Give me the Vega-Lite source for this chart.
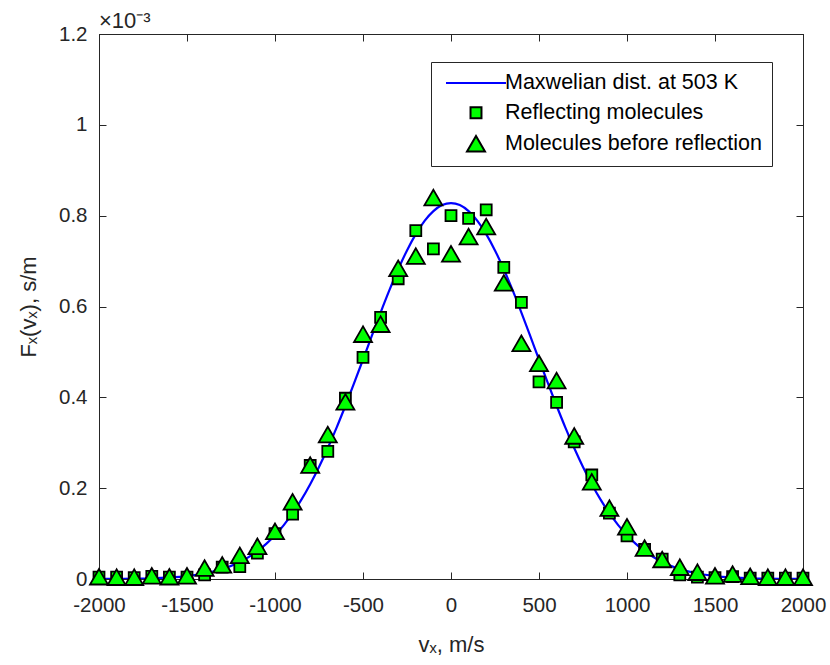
{
  "$schema": "https://vega.github.io/schema/vega-lite/v6.json",
  "width": 704,
  "height": 545,
  "autosize": {"type": "none"},
  "padding": {"left": 99, "top": 34, "right": 27, "bottom": 86},
  "background": "white",
  "title": {"text": "×10⁻³", "anchor": "start", "fontSize": 22, "fontWeight": "normal", "font": "Liberation Sans", "color": "#262626", "offset": -9, "frame": "group"},
  "config": {
    "view": {"stroke": "#262626", "strokeWidth": 1},
    "axis": {"grid": false, "domainColor": "#262626", "tickColor": "#262626", "labelColor": "#262626", "titleColor": "#262626", "labelFont": "Liberation Sans", "titleFont": "Liberation Sans", "labelFontSize": 20.5, "titleFontSize": 22, "titleFontWeight": "normal", "tickSize": -7, "domainWidth": 1, "tickWidth": 1, "labelFlush": false, "labelOverlap": false},
    "legend": {"labelFont": "Liberation Sans"}
  },
  "datasets": {
    "curve": [
      {"v": -2000, "F": 0.0000002, "series": "Maxwelian dist. at 503 K"},
      {"v": -1900, "F": 0.0000004, "series": "Maxwelian dist. at 503 K"},
      {"v": -1800, "F": 0.0000008, "series": "Maxwelian dist. at 503 K"},
      {"v": -1700, "F": 0.0000016, "series": "Maxwelian dist. at 503 K"},
      {"v": -1600, "F": 0.0000034, "series": "Maxwelian dist. at 503 K"},
      {"v": -1500, "F": 0.0000065, "series": "Maxwelian dist. at 503 K"},
      {"v": -1400, "F": 0.0000122, "series": "Maxwelian dist. at 503 K"},
      {"v": -1300, "F": 0.0000218, "series": "Maxwelian dist. at 503 K"},
      {"v": -1200, "F": 0.0000373, "series": "Maxwelian dist. at 503 K"},
      {"v": -1150, "F": 0.0000481, "series": "Maxwelian dist. at 503 K"},
      {"v": -1100, "F": 0.0000613, "series": "Maxwelian dist. at 503 K"},
      {"v": -1050, "F": 0.0000772, "series": "Maxwelian dist. at 503 K"},
      {"v": -1000, "F": 0.0000962, "series": "Maxwelian dist. at 503 K"},
      {"v": -950, "F": 0.0001187, "series": "Maxwelian dist. at 503 K"},
      {"v": -900, "F": 0.0001448, "series": "Maxwelian dist. at 503 K"},
      {"v": -850, "F": 0.0001748, "series": "Maxwelian dist. at 503 K"},
      {"v": -800, "F": 0.0002088, "series": "Maxwelian dist. at 503 K"},
      {"v": -750, "F": 0.0002467, "series": "Maxwelian dist. at 503 K"},
      {"v": -700, "F": 0.0002884, "series": "Maxwelian dist. at 503 K"},
      {"v": -650, "F": 0.0003334, "series": "Maxwelian dist. at 503 K"},
      {"v": -600, "F": 0.0003815, "series": "Maxwelian dist. at 503 K"},
      {"v": -550, "F": 0.0004317, "series": "Maxwelian dist. at 503 K"},
      {"v": -500, "F": 0.0004833, "series": "Maxwelian dist. at 503 K"},
      {"v": -450, "F": 0.0005353, "series": "Maxwelian dist. at 503 K"},
      {"v": -400, "F": 0.0005866, "series": "Maxwelian dist. at 503 K"},
      {"v": -350, "F": 0.0006359, "series": "Maxwelian dist. at 503 K"},
      {"v": -300, "F": 0.0006820, "series": "Maxwelian dist. at 503 K"},
      {"v": -250, "F": 0.0007235, "series": "Maxwelian dist. at 503 K"},
      {"v": -200, "F": 0.0007594, "series": "Maxwelian dist. at 503 K"},
      {"v": -150, "F": 0.0007886, "series": "Maxwelian dist. at 503 K"},
      {"v": -100, "F": 0.0008101, "series": "Maxwelian dist. at 503 K"},
      {"v": -50, "F": 0.0008233, "series": "Maxwelian dist. at 503 K"},
      {"v": 0, "F": 0.0008277, "series": "Maxwelian dist. at 503 K"},
      {"v": 50, "F": 0.0008233, "series": "Maxwelian dist. at 503 K"},
      {"v": 100, "F": 0.0008101, "series": "Maxwelian dist. at 503 K"},
      {"v": 150, "F": 0.0007886, "series": "Maxwelian dist. at 503 K"},
      {"v": 200, "F": 0.0007594, "series": "Maxwelian dist. at 503 K"},
      {"v": 250, "F": 0.0007235, "series": "Maxwelian dist. at 503 K"},
      {"v": 300, "F": 0.0006820, "series": "Maxwelian dist. at 503 K"},
      {"v": 350, "F": 0.0006359, "series": "Maxwelian dist. at 503 K"},
      {"v": 400, "F": 0.0005866, "series": "Maxwelian dist. at 503 K"},
      {"v": 450, "F": 0.0005353, "series": "Maxwelian dist. at 503 K"},
      {"v": 500, "F": 0.0004833, "series": "Maxwelian dist. at 503 K"},
      {"v": 550, "F": 0.0004317, "series": "Maxwelian dist. at 503 K"},
      {"v": 600, "F": 0.0003815, "series": "Maxwelian dist. at 503 K"},
      {"v": 650, "F": 0.0003334, "series": "Maxwelian dist. at 503 K"},
      {"v": 700, "F": 0.0002884, "series": "Maxwelian dist. at 503 K"},
      {"v": 750, "F": 0.0002467, "series": "Maxwelian dist. at 503 K"},
      {"v": 800, "F": 0.0002088, "series": "Maxwelian dist. at 503 K"},
      {"v": 850, "F": 0.0001748, "series": "Maxwelian dist. at 503 K"},
      {"v": 900, "F": 0.0001448, "series": "Maxwelian dist. at 503 K"},
      {"v": 950, "F": 0.0001187, "series": "Maxwelian dist. at 503 K"},
      {"v": 1000, "F": 0.0000962, "series": "Maxwelian dist. at 503 K"},
      {"v": 1050, "F": 0.0000772, "series": "Maxwelian dist. at 503 K"},
      {"v": 1100, "F": 0.0000613, "series": "Maxwelian dist. at 503 K"},
      {"v": 1150, "F": 0.0000481, "series": "Maxwelian dist. at 503 K"},
      {"v": 1200, "F": 0.0000373, "series": "Maxwelian dist. at 503 K"},
      {"v": 1300, "F": 0.0000218, "series": "Maxwelian dist. at 503 K"},
      {"v": 1400, "F": 0.0000122, "series": "Maxwelian dist. at 503 K"},
      {"v": 1500, "F": 0.0000065, "series": "Maxwelian dist. at 503 K"},
      {"v": 1600, "F": 0.0000034, "series": "Maxwelian dist. at 503 K"},
      {"v": 1700, "F": 0.0000016, "series": "Maxwelian dist. at 503 K"},
      {"v": 1800, "F": 0.0000008, "series": "Maxwelian dist. at 503 K"},
      {"v": 1900, "F": 0.0000004, "series": "Maxwelian dist. at 503 K"},
      {"v": 2000, "F": 0.0000002, "series": "Maxwelian dist. at 503 K"}
    ],
    "points": [
      {"v": -2000, "F": 0.000004, "series": "Reflecting molecules"},
      {"v": -1900, "F": 0.000004, "series": "Reflecting molecules"},
      {"v": -1800, "F": 0.000003, "series": "Reflecting molecules"},
      {"v": -1700, "F": 0.000006, "series": "Reflecting molecules"},
      {"v": -1600, "F": 0.000004, "series": "Reflecting molecules"},
      {"v": -1500, "F": 0.000004, "series": "Reflecting molecules"},
      {"v": -1400, "F": 0.000009, "series": "Reflecting molecules"},
      {"v": -1300, "F": 0.000026, "series": "Reflecting molecules"},
      {"v": -1200, "F": 0.000027, "series": "Reflecting molecules"},
      {"v": -1100, "F": 0.000057, "series": "Reflecting molecules"},
      {"v": -1000, "F": 0.000100, "series": "Reflecting molecules"},
      {"v": -900, "F": 0.000143, "series": "Reflecting molecules"},
      {"v": -800, "F": 0.000250, "series": "Reflecting molecules"},
      {"v": -700, "F": 0.000281, "series": "Reflecting molecules"},
      {"v": -600, "F": 0.000398, "series": "Reflecting molecules"},
      {"v": -500, "F": 0.000488, "series": "Reflecting molecules"},
      {"v": -400, "F": 0.000576, "series": "Reflecting molecules"},
      {"v": -300, "F": 0.000661, "series": "Reflecting molecules"},
      {"v": -200, "F": 0.000767, "series": "Reflecting molecules"},
      {"v": -100, "F": 0.000727, "series": "Reflecting molecules"},
      {"v": 0, "F": 0.000800, "series": "Reflecting molecules"},
      {"v": 100, "F": 0.000794, "series": "Reflecting molecules"},
      {"v": 200, "F": 0.000813, "series": "Reflecting molecules"},
      {"v": 300, "F": 0.000686, "series": "Reflecting molecules"},
      {"v": 400, "F": 0.000609, "series": "Reflecting molecules"},
      {"v": 500, "F": 0.000434, "series": "Reflecting molecules"},
      {"v": 600, "F": 0.000389, "series": "Reflecting molecules"},
      {"v": 700, "F": 0.000302, "series": "Reflecting molecules"},
      {"v": 800, "F": 0.000229, "series": "Reflecting molecules"},
      {"v": 900, "F": 0.000145, "series": "Reflecting molecules"},
      {"v": 1000, "F": 0.000095, "series": "Reflecting molecules"},
      {"v": 1100, "F": 0.000065, "series": "Reflecting molecules"},
      {"v": 1200, "F": 0.000044, "series": "Reflecting molecules"},
      {"v": 1300, "F": 0.000009, "series": "Reflecting molecules"},
      {"v": 1400, "F": 0.000004, "series": "Reflecting molecules"},
      {"v": 1500, "F": 0.000003, "series": "Reflecting molecules"},
      {"v": 1600, "F": 0.000005, "series": "Reflecting molecules"},
      {"v": 1700, "F": 0.000002, "series": "Reflecting molecules"},
      {"v": 1800, "F": 0.000002, "series": "Reflecting molecules"},
      {"v": 1900, "F": 0.000002, "series": "Reflecting molecules"},
      {"v": 2000, "F": 0.000002, "series": "Reflecting molecules"},
      {"v": -2000, "F": 0.000005, "series": "Molecules before reflection"},
      {"v": -1900, "F": 0.000004, "series": "Molecules before reflection"},
      {"v": -1800, "F": 0.000004, "series": "Molecules before reflection"},
      {"v": -1700, "F": 0.000007, "series": "Molecules before reflection"},
      {"v": -1600, "F": 0.000005, "series": "Molecules before reflection"},
      {"v": -1500, "F": 0.000007, "series": "Molecules before reflection"},
      {"v": -1400, "F": 0.000024, "series": "Molecules before reflection"},
      {"v": -1300, "F": 0.000031, "series": "Molecules before reflection"},
      {"v": -1200, "F": 0.000052, "series": "Molecules before reflection"},
      {"v": -1100, "F": 0.000072, "series": "Molecules before reflection"},
      {"v": -1000, "F": 0.000105, "series": "Molecules before reflection"},
      {"v": -900, "F": 0.000170, "series": "Molecules before reflection"},
      {"v": -800, "F": 0.000251, "series": "Molecules before reflection"},
      {"v": -700, "F": 0.000318, "series": "Molecules before reflection"},
      {"v": -600, "F": 0.000390, "series": "Molecules before reflection"},
      {"v": -500, "F": 0.000539, "series": "Molecules before reflection"},
      {"v": -400, "F": 0.000561, "series": "Molecules before reflection"},
      {"v": -300, "F": 0.000684, "series": "Molecules before reflection"},
      {"v": -200, "F": 0.000711, "series": "Molecules before reflection"},
      {"v": -100, "F": 0.000840, "series": "Molecules before reflection"},
      {"v": 0, "F": 0.000716, "series": "Molecules before reflection"},
      {"v": 100, "F": 0.000754, "series": "Molecules before reflection"},
      {"v": 200, "F": 0.000776, "series": "Molecules before reflection"},
      {"v": 300, "F": 0.000652, "series": "Molecules before reflection"},
      {"v": 400, "F": 0.000519, "series": "Molecules before reflection"},
      {"v": 500, "F": 0.000475, "series": "Molecules before reflection"},
      {"v": 600, "F": 0.000437, "series": "Molecules before reflection"},
      {"v": 700, "F": 0.000315, "series": "Molecules before reflection"},
      {"v": 800, "F": 0.000214, "series": "Molecules before reflection"},
      {"v": 900, "F": 0.000156, "series": "Molecules before reflection"},
      {"v": 1000, "F": 0.000115, "series": "Molecules before reflection"},
      {"v": 1100, "F": 0.000068, "series": "Molecules before reflection"},
      {"v": 1200, "F": 0.000043, "series": "Molecules before reflection"},
      {"v": 1300, "F": 0.000026, "series": "Molecules before reflection"},
      {"v": 1400, "F": 0.000015, "series": "Molecules before reflection"},
      {"v": 1500, "F": 0.000007, "series": "Molecules before reflection"},
      {"v": 1600, "F": 0.000011, "series": "Molecules before reflection"},
      {"v": 1700, "F": 0.000006, "series": "Molecules before reflection"},
      {"v": 1800, "F": 0.000004, "series": "Molecules before reflection"},
      {"v": 1900, "F": 0.000004, "series": "Molecules before reflection"},
      {"v": 2000, "F": 0.000004, "series": "Molecules before reflection"}
    ]
  },
  "resolve": {"axis": {"x": "independent", "y": "independent"}},
  "layer": [
    {
      "data": {"name": "curve"},
      "mark": {"type": "line", "strokeWidth": 2.2, "interpolate": "monotone", "clip": true},
      "encoding": {
        "x": {"field": "v", "type": "quantitative", "scale": {"domain": [-2000, 2000], "nice": false, "zero": false, "padding": 0},
          "axis": {"orient": "bottom", "values": [-2000, -1500, -1000, -500, 0, 500, 1000, 1500, 2000], "labelExpr": "'' + datum.value", "title": "vₓ, m/s", "labelPadding": 23, "titlePadding": 19}},
        "y": {"field": "F", "type": "quantitative", "scale": {"domain": [0, 0.0012], "nice": false, "zero": true, "padding": 0},
          "axis": {"orient": "left", "values": [0, 0.0002, 0.0004, 0.0006, 0.0008, 0.001, 0.0012], "labelExpr": "format(datum.value * 1000, '.1~f')", "title": "Fₓ(vₓ), s/m", "labelPadding": 19, "titlePadding": 18}},
        "stroke": {"field": "series", "type": "nominal",
          "scale": {"domain": ["Maxwelian dist. at 503 K", "Reflecting molecules", "Molecules before reflection"], "range": ["#0000ff", "#000000", "#000000"]},
          "legend": {"title": null, "orient": "none", "legendX": 332, "legendY": 28, "padding": 10, "strokeColor": "#262626", "fillColor": "white", "labelFontSize": 21.5, "labelColor": "#000000", "labelLimit": 0, "symbolStrokeWidth": 2, "rowPadding": 7, "symbolOffset": 24, "labelOffset": 18}}
      }
    },
    {
      "data": {"name": "points"},
      "mark": {"type": "point", "filled": true, "opacity": 1, "strokeWidth": 1.8, "clip": false},
      "encoding": {
        "x": {"field": "v", "type": "quantitative", "scale": {"domain": [-2000, 2000], "nice": false, "zero": false, "padding": 0},
          "axis": {"orient": "top", "values": [-2000, -1500, -1000, -500, 0, 500, 1000, 1500, 2000], "labels": false, "title": null}},
        "y": {"field": "F", "type": "quantitative", "scale": {"domain": [0, 0.0012], "nice": false, "zero": true, "padding": 0},
          "axis": {"orient": "right", "values": [0, 0.0002, 0.0004, 0.0006, 0.0008, 0.001, 0.0012], "labels": false, "title": null}},
        "stroke": {"field": "series", "type": "nominal"},
        "fill": {"field": "series", "type": "nominal",
          "scale": {"domain": ["Maxwelian dist. at 503 K", "Reflecting molecules", "Molecules before reflection"], "range": ["transparent", "#00ff00", "#00ff00"]}},
        "shape": {"field": "series", "type": "nominal",
          "scale": {"domain": ["Maxwelian dist. at 503 K", "Reflecting molecules", "Molecules before reflection"], "range": ["M-3,0L3,0", "square", "triangle-up"]}},
        "size": {"field": "series", "type": "nominal",
          "scale": {"type": "ordinal", "domain": ["Maxwelian dist. at 503 K", "Reflecting molecules", "Molecules before reflection"], "range": [400, 120, 324]}}
      }
    }
  ]
}
